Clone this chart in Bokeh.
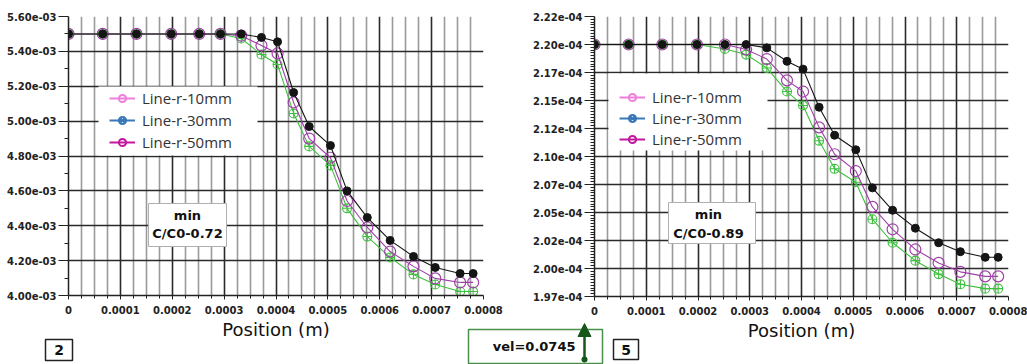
from bokeh.plotting import figure
from bokeh.models import (FixedTicker, CustomJSTickFormatter, Legend, LegendItem,
                          BoxAnnotation, Label, Arrow, NormalHead, ColumnDataSource)
from bokeh.layouts import row, column
from bokeh.embed import file_html
from bokeh.resources import INLINE

# ---------------- data ----------------
position = [0.0, 0.000066, 0.000131, 0.000198, 0.000252, 0.000293, 0.000333, 0.000372,
            0.000403, 0.000434, 0.000464, 0.000505, 0.000537, 0.000576, 0.000620,
            0.000665, 0.000707, 0.000755, 0.000780]

# panel "2"
left_black = [5.50e-3, 5.50e-3, 5.50e-3, 5.50e-3, 5.50e-3, 5.50e-3, 5.50e-3, 5.48e-3, 5.455e-3,
              5.164e-3, 4.969e-3, 4.86e-3, 4.60e-3, 4.447e-3, 4.316e-3, 4.224e-3, 4.161e-3,
              4.126e-3, 4.126e-3]
left_purple = [5.50e-3, 5.50e-3, 5.50e-3, 5.50e-3, 5.50e-3, 5.50e-3, 5.49e-3, 5.434e-3, 5.388e-3,
               5.107e-3, 4.90e-3, 4.79e-3, 4.542e-3, 4.39e-3, 4.252e-3, 4.167e-3, 4.098e-3,
               4.075e-3, 4.075e-3]
left_green = [5.50e-3, 5.50e-3, 5.50e-3, 5.50e-3, 5.50e-3, 5.50e-3, 5.474e-3, 5.382e-3, 5.325e-3,
              5.044e-3, 4.855e-3, 4.746e-3, 4.50e-3, 4.338e-3, 4.218e-3, 4.121e-3, 4.063e-3,
              4.023e-3, 4.023e-3]

# panel "5"
right_black = [2.200e-4, 2.200e-4, 2.200e-4, 2.200e-4, 2.200e-4, 2.200e-4, 2.197e-4, 2.185e-4,
               2.178e-4, 2.144e-4, 2.119e-4, 2.106e-4, 2.072e-4, 2.052e-4, 2.036e-4, 2.023e-4,
               2.015e-4, 2.010e-4, 2.010e-4]
right_purple = [2.200e-4, 2.200e-4, 2.200e-4, 2.200e-4, 2.200e-4, 2.1955e-4, 2.187e-4, 2.168e-4,
                2.158e-4, 2.126e-4, 2.102e-4, 2.087e-4, 2.055e-4, 2.035e-4, 2.017e-4, 2.005e-4,
                1.997e-4, 1.993e-4, 1.993e-4]
right_green = [2.200e-4, 2.200e-4, 2.200e-4, 2.200e-4, 2.196e-4, 2.191e-4, 2.179e-4, 2.158e-4,
               2.1455e-4, 2.114e-4, 2.089e-4, 2.077e-4, 2.044e-4, 2.023e-4, 2.007e-4, 1.995e-4,
               1.986e-4, 1.982e-4, 1.982e-4]

x_ticks = [0.0, 0.0001, 0.0002, 0.0003, 0.0004, 0.0005, 0.0006, 0.0007, 0.0008]
x_labels = ["0", "0.0001", "0.0002", "0.0003", "0.0004", "0.0005", "0.0006", "0.0007", "0.0008"]

left_y_ticks = [4.0e-3, 4.2e-3, 4.4e-3, 4.6e-3, 4.8e-3, 5.0e-3, 5.2e-3, 5.4e-3, 5.6e-3]
left_y_labels = ["4.00e-03", "4.20e-03", "4.40e-03", "4.60e-03", "4.80e-03", "5.00e-03",
                 "5.20e-03", "5.40e-03", "5.60e-03"]

right_y_ticks = [1.975e-4, 2.0e-4, 2.025e-4, 2.05e-4, 2.075e-4, 2.1e-4, 2.125e-4, 2.15e-4,
                 2.175e-4, 2.2e-4, 2.225e-4]
right_y_labels = ["1.97e-04", "2.00e-04", "2.02e-04", "2.05e-04", "2.07e-04", "2.10e-04",
                  "2.12e-04", "2.15e-04", "2.17e-04", "2.20e-04", "2.22e-04"]

legend_labels = ["Line-r-10mm", "Line-r-30mm", "Line-r-50mm"]
legend_colors = ["#f07fdc", "#3a78b8", "#c4169e"]

axis_title = "Position (m)"
panel_tags = ["2", "5"]
min_notes = ["min\nC/C0-0.72", "min\nC/C0-0.89"]
vel_note = "vel=0.0745"

BLACK = "#151515"
PURPLE = "#a040a8"
GREEN = "#3fbf3f"
DKGREEN = "#17561a"


def fmt(tvals, tlabels):
    return CustomJSTickFormatter(args=dict(tvals=tvals, tlabels=tlabels), code="""
        let best = 0, bd = Infinity;
        for (let i = 0; i < tvals.length; i++) {
            const d = Math.abs(tick - tvals[i]);
            if (d < bd) { bd = d; best = i; }
        }
        return tlabels[best];
    """)


def minor_between(tv, n):
    out = []
    for a, b in zip(tv[:-1], tv[1:]):
        for k in range(1, n):
            out.append(a + (b - a) * k / n)
    return out


def box(p, l, r, b, t, units="screen", fill="white", line=None, lw=1.0, radius=0):
    p.add_layout(BoxAnnotation(left=l, right=r, bottom=b, top=t,
                               left_units=units, right_units=units,
                               bottom_units=units, top_units=units,
                               fill_color=fill, fill_alpha=1.0,
                               line_color=line, line_width=lw, line_alpha=1.0 if line else 0.0,
                               border_radius=radius))


def label(p, x, y, text, units="screen", size="13px", align="center", color="#111"):
    p.add_layout(Label(x=x, y=y, x_units=units, y_units=units, text=text,
                       text_font="DejaVu Sans", text_font_size=size,
                       text_font_style="bold", text_line_height=1.25,
                       text_align=align, text_baseline="middle", text_color=color))


def make_panel(width, border_l, border_r, border_t, border_b, frame_w, frame_h,
               y_range, y_ticks, y_labels, y_minor, ys):
    p = figure(width=width, height=364, output_backend="svg", toolbar_location=None,
               x_range=(0.0, 0.0008), y_range=y_range,
               min_border_left=border_l, min_border_right=border_r,
               min_border_top=border_t, min_border_bottom=border_b,
               frame_width=frame_w, frame_height=frame_h)
    p.title = None
    p.outline_line_color = None
    p.background_fill_alpha = 0.0
    p.border_fill_alpha = 0.0

    xt = FixedTicker(ticks=x_ticks, minor_ticks=minor_between(x_ticks, 4))
    yt = FixedTicker(ticks=y_ticks, minor_ticks=y_minor)
    p.xaxis.ticker = xt
    p.yaxis.ticker = yt
    p.xgrid.ticker = xt
    p.ygrid.ticker = yt
    p.xaxis.formatter = fmt(x_ticks, x_labels)
    p.yaxis.formatter = fmt(y_ticks, y_labels)

    p.xgrid.grid_line_color = "#2a2a2a"
    p.xgrid.grid_line_width = 1.6
    p.xgrid.minor_grid_line_color = "#9a9a9a"
    p.xgrid.minor_grid_line_width = 1.6
    p.ygrid.grid_line_color = "#2a2a2a"
    p.ygrid.grid_line_width = 1.6

    for ax in (p.xaxis, p.yaxis):
        ax.axis_line_color = "#222"
        ax.axis_line_width = 1.5
        ax.major_tick_line_color = "#222"
        ax.minor_tick_line_color = "#222"
        ax.major_tick_in = 0
        ax.minor_tick_in = 0
        ax.major_label_text_font = "DejaVu Sans"
        ax.major_label_text_font_style = "bold"
        ax.major_label_text_font_size = "10px"
        ax.major_label_text_color = "#222"
    p.xaxis.major_tick_out = 4
    p.xaxis.minor_tick_out = 3
    p.xaxis.major_label_standoff = 6
    p.yaxis.major_tick_out = 10
    p.yaxis.minor_tick_out = 4
    p.yaxis.major_label_standoff = 2

    p.xaxis.axis_label = axis_title
    p.xaxis.axis_label_text_font = "DejaVu Sans"
    p.xaxis.axis_label_text_font_style = "normal"
    p.xaxis.axis_label_text_font_size = "18px"
    p.xaxis.axis_label_text_color = "#111"
    p.xaxis.axis_label_standoff = 2

    yb, yp, yg = ys
    src = ColumnDataSource(dict(x=position, black=yb, purple=yp, green=yg))
    p.line("x", "green", source=src, line_color=GREEN, line_width=1.1)
    p.scatter("x", "green", source=src, marker="circle_cross", size=9,
              line_color=GREEN, fill_color=None, line_width=1.1)
    p.line("x", "purple", source=src, line_color=PURPLE, line_width=1.1)
    p.scatter("x", "purple", source=src, marker="circle", size=11,
              line_color=PURPLE, fill_color=None, line_width=1.2)
    p.line("x", "black", source=src, line_color=BLACK, line_width=1.1)
    p.scatter("x", "black", source=src, marker="circle", size=8,
              line_color=BLACK, fill_color=BLACK)
    return p


def add_legend(p, white_box, loc, spacing):
    box(p, *white_box)
    # legend-only renderers (their point lies outside the visible range)
    dummy = ColumnDataSource(dict(x=[-1.0, -1.0], y=[-1.0, -1.0]))
    markers = ["circle", "circle_x", "circle"]
    items = []
    for lab, col, mk in zip(legend_labels, legend_colors, markers):
        rl = p.line("x", "y", source=dummy, line_color=col, line_width=2)
        rs = p.scatter("x", "y", source=dummy, marker=mk, size=12, line_color=col,
                       line_width=2, fill_color=None)
        items.append(LegendItem(label=lab, renderers=[rl, rs]))
    lg = Legend(items=items, location=loc, margin=0, padding=5, spacing=spacing,
                glyph_width=26, glyph_height=18, label_height=18, label_standoff=7,
                label_text_font="Open Sans", label_text_font_size="15px",
                label_text_color="#333", background_fill_alpha=0.0, border_line_alpha=0.0)
    p.add_layout(lg)


# ---------------- left panel ("2") ----------------
p1 = make_panel(610, 68, 127, 13, 72, 415, 279, (4.0e-3, 5.6e-3), left_y_ticks, left_y_labels,
                minor_between(left_y_ticks, 2), (left_black, left_purple, left_green))
add_legend(p1, (30, 189, 140, 209), (36, 138.5), 2)
box(p1, 80, 158, 49, 92, fill="white", line="#b0b0b0", lw=1.0)
label(p1, 119, 71, min_notes[0])

# ---------------- right panel ("5") ----------------
p2 = make_panel(517, 84, 19, 16, 68, 414, 280, (1.975e-4, 2.225e-4), right_y_ticks, right_y_labels,
                minor_between(right_y_ticks, 10), (right_black, right_purple, right_green))
add_legend(p2, (14, 173, 146, 223), (20, 142.5), 1)
box(p2, 74, 161, 53, 94, fill="white", line="#b0b0b0", lw=1.0)
label(p2, 114, 72.5, min_notes[1])
p2.margin = (0, 0, 0, -100)

# ---------------- bottom strip (tags, velocity note) ----------------
p3 = figure(width=1027, height=45, output_backend="svg", toolbar_location=None,
            x_range=(0, 1027), y_range=(364, 319), x_axis_type=None, y_axis_type=None,
            min_border=0)
p3.title = None
p3.outline_line_color = None
p3.background_fill_alpha = 0.0
p3.border_fill_alpha = 0.0
p3.xgrid.visible = False
p3.ygrid.visible = False
box(p3, 45, 72, 360, 339, units="data", fill="white", line="#222", lw=1.5)
label(p3, 58.5, 349.5, panel_tags[0], units="data", size="14px")
box(p3, 613, 638, 359, 339, units="data", fill="white", line="#222", lw=1.5)
label(p3, 625.5, 349, panel_tags[1], units="data", size="14px")
box(p3, 468, 602, 363, 329, units="data", fill="white", line="#4a8f4a", lw=1.5)
label(p3, 575, 346, vel_note, units="data", align="right")
p3.add_layout(Arrow(x_start=584, y_start=359, x_end=584, y_end=323,
                    start_units="data", end_units="data",
                    line_color=DKGREEN, line_width=2.5,
                    end=NormalHead(size=13, fill_color=DKGREEN, line_color=DKGREEN),
                    start=None))
box(p3, 581, 587, 362, 356, units="data", fill=DKGREEN, radius=3)
p3.margin = (-45, 0, 0, 0)

layout = column(row(p1, p2, spacing=0), p3, spacing=0)

open("out.html", "w").write(file_html(layout, INLINE))
